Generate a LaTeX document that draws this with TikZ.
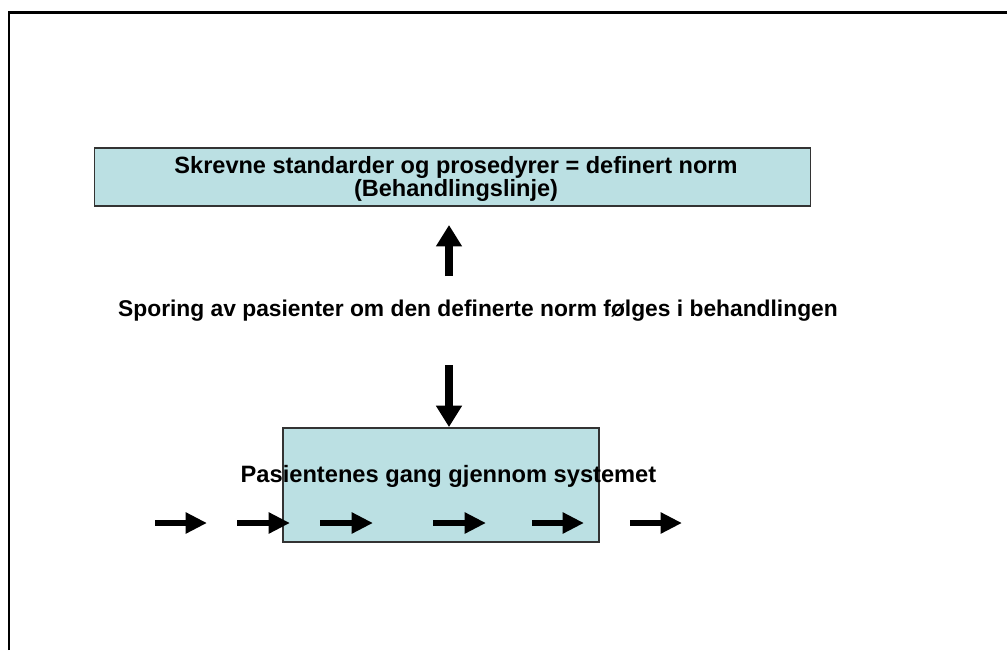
\documentclass[tikz,border=0pt]{standalone}
\usepackage{fontspec}
\setmainfont{Liberation Sans}
\usetikzlibrary{arrows.meta}

\definecolor{boxfill}{HTML}{BBE0E3}
\definecolor{boxline}{HTML}{333333}

\tikzset{
  pbox/.style={draw=boxline, line width=1.4pt, fill=boxfill, inner sep=0pt},
  label text/.style={font=\fontsize{#1}{17.5pt}\selectfont\bfseries, align=center, inner sep=0pt},
  label text/.default=17.4pt,
  bigarrow/.style={line width=6pt, -{Triangle[length=16pt, width=18.5pt]}},
  flowarrow/.style={line width=4.6pt, -{Triangle[length=16pt, width=15pt]}},
}

\begin{document}
\begin{tikzpicture}[x=0.75pt, y=-0.75pt]
  \useasboundingbox (0,0) rectangle (1007,650);

  % slide frame (only top and left edges show)
  \draw[line width=1.6pt] (9,650) -- (9,12.5) -- (1007,12.5);

  % norm box
  \node[pbox, minimum width=716*0.75pt, minimum height=58*0.75pt] (norm) at (452.5,177) {};
  \node[label text=17.65pt] (normtext) at (456,179)
    {Skrevne standarder og prosedyrer = definert norm\\(Behandlingslinje)};

  % tracking text
  \node[label text=17.1pt] (tracking) at (478,311)
    {Sporing av pasienter om den definerte norm følges i behandlingen};

  % system box
  \node[pbox, minimum width=316*0.75pt, minimum height=114*0.75pt] (system) at (441,485) {};
  \node[label text=17.75pt] (systemtext) at (448.5,476) {Pasientenes gang gjennom systemet};

  % vertical arrows
  \coordinate (upstart) at (449,276);
  \coordinate (upend) at (449,225);
  \coordinate (downstart) at (449,365);
  \draw[bigarrow] (upstart) -- (upend);
  \draw[bigarrow] (downstart) -- (downstart |- system.north);

  % patient flow arrows
  \foreach \i/\a/\b in {1/155/207, 2/237/290, 3/320/373, 4/433/486, 5/532/584, 6/630/682} {
    \coordinate (f\i a) at (\a,523);
    \coordinate (f\i b) at (\b,523);
    \draw[flowarrow] (f\i a) -- (f\i b);
  }
\end{tikzpicture}
\end{document}
